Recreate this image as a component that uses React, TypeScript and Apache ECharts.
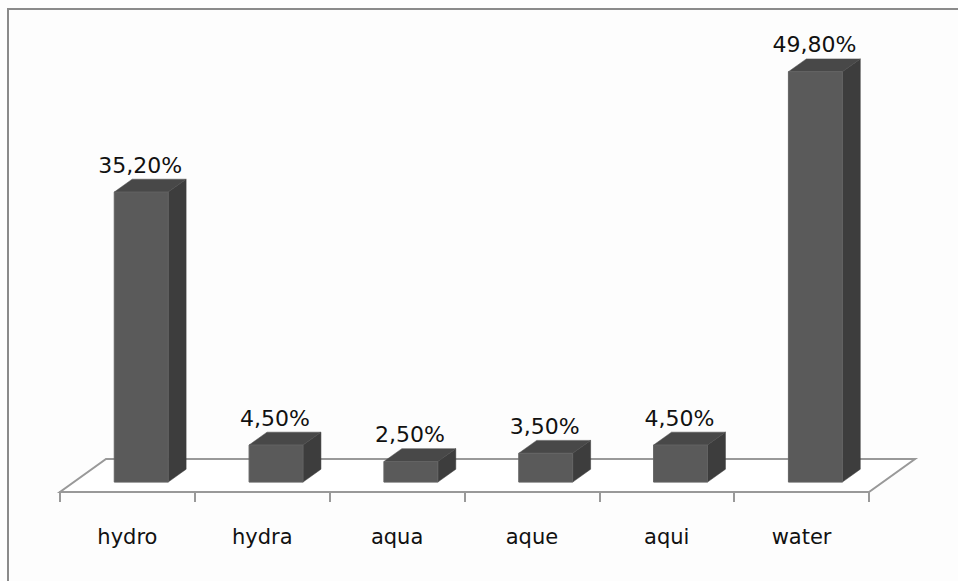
import React, { useEffect, useRef } from "react";
import * as echarts from "echarts";

const categories = ["hydro", "hydra", "aqua", "aque", "aqui", "water"];
const values = [35.2, 4.5, 2.5, 3.5, 4.5, 49.8];

const DEPTH_X = 46;
const DEPTH_Y = -33;
const FRONT = 0.3;
const BACK = 0.69;
const FONT = "'DejaVu Sans', Verdana, sans-serif";

const fmt = (v: number) => v.toFixed(2).replace(".", ",") + "%";

export default function App() {
  const ref = useRef<HTMLDivElement>(null);
  useEffect(() => {
    if (!ref.current) return;
    const chart = echarts.init(ref.current, undefined, { renderer: "svg" });
    const option: any = {
      animation: false,
      backgroundColor: "#fdfdfd",
      grid: { left: 60, right: 89, top: 38.8, bottom: 89 },
      xAxis: {
        type: "category",
        data: categories,
        axisLine: { lineStyle: { color: "#999999", width: 2 } },
        axisTick: { show: true, length: 10, alignWithLabel: false, lineStyle: { color: "#999999", width: 2 } },
        axisLabel: { fontSize: 21, fontFamily: FONT, color: "#111111", margin: 34 },
        splitLine: { show: false },
        z: 3,
      },
      yAxis: { type: "value", min: 0, max: 55, show: false },
      graphic: [
        {
          type: "rect",
          z: 0,
          silent: true,
          shape: { x: 8, y: 9, width: 1000, height: 1000 },
          style: { fill: "none", stroke: "#8a8a8a", lineWidth: 2 },
        },
      ],
      series: [
        {
          type: "custom",
          z: 1,
          clip: false,
          silent: true,
          data: [[0, 0]],
          renderItem: (params: any) => {
            const cs = params.coordSys;
            const yb = cs.y + cs.height;
            return {
              type: "polygon",
              shape: {
                points: [
                  [cs.x, yb],
                  [cs.x + cs.width, yb],
                  [cs.x + cs.width + DEPTH_X, yb + DEPTH_Y],
                  [cs.x + DEPTH_X, yb + DEPTH_Y],
                ],
              },
              style: { fill: "#ffffff", stroke: "#999999", lineWidth: 2 },
            };
          },
        },
        {
          type: "custom",
          z: 5,
          clip: false,
          data: values.map((v, i) => [i, v]),
          renderItem: (params: any, api: any) => {
            const i = api.value(0);
            const v = api.value(1);
            const base = api.coord([i, 0]);
            const top = api.coord([i, v]);
            const bw = api.size([1, 0])[0] * 0.4;
            const xl = base[0] - bw / 2;
            const xr = base[0] + bw / 2;
            const fx = DEPTH_X * FRONT;
            const fy = DEPTH_Y * FRONT;
            const bx = DEPTH_X * BACK;
            const by = DEPTH_Y * BACK;
            const yb = base[1];
            const yt = top[1];
            return {
              type: "group",
              children: [
                {
                  type: "polygon",
                  shape: {
                    points: [
                      [xr + fx, yb + fy],
                      [xr + bx, yb + by],
                      [xr + bx, yt + by],
                      [xr + fx, yt + fy],
                    ],
                  },
                  style: { fill: "#3d3d3d", stroke: "#3d3d3d", lineWidth: 0.5 },
                },
                {
                  type: "polygon",
                  shape: {
                    points: [
                      [xl + fx, yt + fy],
                      [xr + fx, yt + fy],
                      [xr + bx, yt + by],
                      [xl + bx, yt + by],
                    ],
                  },
                  style: { fill: "#484848", stroke: "#4c4c4c", lineWidth: 0.5 },
                },
                {
                  type: "polygon",
                  shape: {
                    points: [
                      [xl + fx, yb + fy],
                      [xr + fx, yb + fy],
                      [xr + fx, yt + fy],
                      [xl + fx, yt + fy],
                    ],
                  },
                  style: { fill: "#5a5a5a", stroke: "#636363", lineWidth: 1 },
                },
                {
                  type: "text",
                  style: {
                    text: fmt(v),
                    x: (xl + xr) / 2 + fx - 1,
                    y: yt + fy - 27,
                    align: "center",
                    verticalAlign: "middle",
                    fontSize: 22,
                    fontFamily: FONT,
                    fill: "#111111",
                  },
                },
              ],
            };
          },
        },
      ],
    };
    chart.setOption(option);
    return () => chart.dispose();
  }, []);
  return (
    <div
      ref={ref}
      style={{ position: "absolute", left: 0, top: 0, width: 958, height: 581 }}
    />
  );
}
